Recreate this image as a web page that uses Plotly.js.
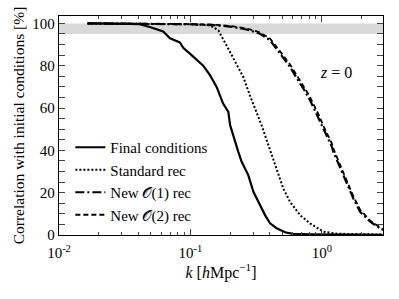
<!DOCTYPE html>
<html><head><meta charset="utf-8">
<script src="https://cdn.plot.ly/plotly-3.0.1.min.js"></script>
<style>html,body{margin:0;padding:0;background:#fff}#chart{width:399px;height:299px}</style>
</head><body><div id="chart"></div>
<script>
var seriesNames = ["Final conditions", "Standard rec", "New 𝒪(1) rec", "New 𝒪(2) rec"];

var kFinal = [0.0165,0.025,0.035,0.041,0.049,0.062,0.0698,0.083,0.088,0.099,0.118,0.125,0.141,0.158,0.177,0.194,0.200,0.215,0.231,0.245,0.275,0.301,0.338,0.369,0.403,0.452,0.524,0.6,0.8,1.2,2.0,2.9];
var cFinal = [100,100,99.8,99.6,98.3,96.2,93,91,88.5,85.7,81.7,80,75.5,70,62.1,58.2,52,45,39.3,34.6,28.3,20.4,14.2,9.4,5.5,3.2,1.3,0.5,0.3,0.2,0.1,0.1];

var kStd = [0.0165,0.05,0.1,0.141,0.163,0.188,0.218,0.252,0.283,0.318,0.347,0.391,0.452,0.508,0.571,0.681,0.811,1.02,1.3,2.0,2.9];
var cStd = [100,99.9,99.6,99.1,96.7,89.6,81.7,74.7,66,58.2,51.9,42.5,31.5,22,15.7,9.4,5.5,1.6,0.6,0.3,0.2];

var kNew1 = [0.0165,0.05,0.1,0.15,0.2,0.25,0.283,0.338,0.403,0.48,0.54,0.571,0.681,0.722,0.811,0.966,1.02,1.19,1.22,1.45,1.73,1.95,2.32,2.76,2.91];
var cNew1 = [100,99.9,99.6,99.2,98.5,97.5,96.7,95.1,92,85.7,81.7,79.4,71.6,69.2,63.7,54,50.3,41.7,39.3,28.3,17.3,11,6.3,3.2,2.4];

var kNew2 = [0.0165,0.05,0.1,0.15,0.2,0.25,0.283,0.338,0.403,0.48,0.54,0.571,0.681,0.722,0.811,0.966,1.02,1.19,1.22,1.45,1.73,1.95,2.32,2.76,2.91];
var cNew2 = [100,99.9,99.7,99.4,98.8,97.9,97.2,95.7,92.8,86.8,82.9,80.6,73,70.5,65.2,55.5,51.8,43.2,40.8,29.6,18.4,11.9,6.9,3.6,2.6];

var xTickVals = [0.01, 0.1, 1];
var xTickText = ["10<sup>-2</sup>", "10<sup>-1</sup>", "10<sup>0</sup>"];
var xMinorVals = [0.02,0.03,0.04,0.05,0.06,0.07,0.08,0.09,0.2,0.3,0.4,0.5,0.6,0.7,0.8,0.9,2,3];
var band = [95, 100];

var serif = "Liberation Serif";
var traces = [
  {x:kFinal, y:cFinal, name:seriesNames[0], mode:"lines", line:{color:"#000", width:2.2}},
  {x:kStd, y:cStd, name:seriesNames[1], mode:"lines", line:{color:"#000", width:2, dash:"2px,2px"}},
  {x:kNew1, y:cNew1, name:seriesNames[2], mode:"lines", line:{color:"#000", width:2.2, dash:"9px,3px,2px,3px"}},
  {x:kNew2, y:cNew2, name:seriesNames[3], mode:"lines", line:{color:"#000", width:1.8, dash:"5px,3px"}},
  {x:[xMinorVals[0]], y:[null], xaxis:"x2", showlegend:false, hoverinfo:"skip", mode:"lines"}
];
var xr = [-2, 0.464];
var layout = {
  width:399, height:299,
  margin:{l:59, r:16, t:16, b:64},
  paper_bgcolor:"#fff", plot_bgcolor:"#fff",
  font:{family:serif, size:13, color:"#000"},
  showlegend:true,
  legend:{x:0.035, y:0.475, xanchor:"left", yanchor:"top", bgcolor:"rgba(0,0,0,0)", font:{family:serif, size:15}, itemwidth:30},
  xaxis:{type:"log", range:xr, tickvals:xTickVals, ticktext:xTickText, ticks:"inside", ticklen:6, tickwidth:1,
         showline:true, linecolor:"#000", linewidth:1.2, mirror:"allticks", showgrid:false, zeroline:false,
         tickfont:{family:serif, size:15}, ticklabelstandoff:4,
         title:{text:"<i>k</i> [<i>h</i>Mpc<sup>−1</sup>]", font:{family:serif, size:16}, standoff:6}},
  xaxis2:{type:"log", range:xr, overlaying:"x", anchor:"y", tickvals:xMinorVals, showticklabels:false, ticks:"inside",
          ticklen:3, tickwidth:1, showline:false, mirror:"allticks", showgrid:false, zeroline:false},
  yaxis:{range:[0,103.5], dtick:20, ticks:"inside", ticklen:6, tickwidth:1, showline:true, linecolor:"#000", linewidth:1.2,
         mirror:"allticks", showgrid:false, zeroline:false, tickfont:{family:serif, size:15},
         minor:{dtick:5, ticks:"inside", ticklen:3, showgrid:false},
         title:{text:"Correlation with initial conditions [%]", font:{family:serif, size:15.5}, standoff:3}},
  shapes:[{type:"rect", xref:"paper", x0:0, x1:1, yref:"y", y0:band[0], y1:band[1], fillcolor:"#d9d9d9", line:{width:0}, layer:"below"}],
  annotations:[{xref:"paper", yref:"paper", x:0.91, y:0.79, text:"<i>z</i> = 0", showarrow:false, font:{family:serif, size:16}}]
};
Plotly.newPlot("chart", traces, layout, {displayModeBar:false, staticPlot:true});
</script></body></html>
